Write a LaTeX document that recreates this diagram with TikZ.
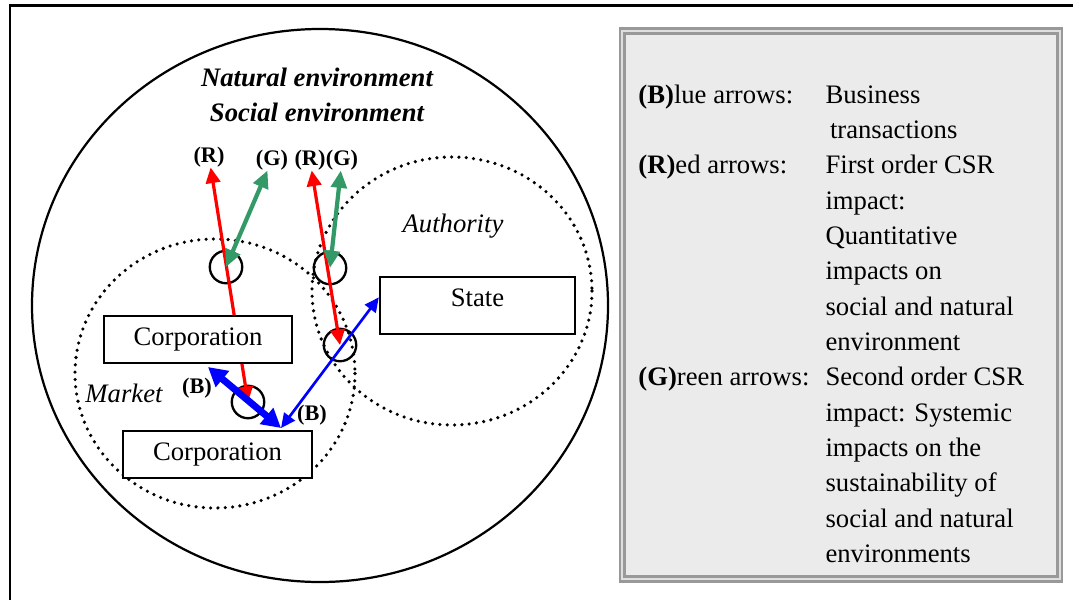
\documentclass[tikz,border=0pt]{standalone}
\usepackage{fontspec}
\setmainfont{Liberation Serif}
\usetikzlibrary{arrows.meta}
\definecolor{cred}{HTML}{FF0000}
\definecolor{cgreen}{HTML}{339966}
\definecolor{cblue}{HTML}{0000FF}
\definecolor{cpanel}{HTML}{EBEBEB}

\begin{document}
\begin{tikzpicture}[
	x=0.45pt, y=-0.45pt,
	% Estilo para las cajas de actores
	actorbox/.style={
		draw,
		rectangle,
		fill=white,
		line width=1pt,
		inner sep=0pt,
		minimum width=84.6pt,
		text height=13pt,
		text depth=8.1pt,
		align=center,
		font=\fontsize{12}{15.9}\selectfont
	},
	% Estilo para los circulos de impacto
	hub/.style={
		draw,
		circle,
		line width=1.05pt,
		inner sep=0pt,
		minimum size=14.6pt
	},
	% Estilo para las etiquetas de las flechas
	tag/.style={
		inner sep=0pt,
		font=\fontsize{10}{12}\selectfont\bfseries
	},
	% Estilo para los nombres de zona
	zonelabel/.style={
		inner sep=0pt,
		font=\fontsize{12}{15.9}\selectfont\itshape
	},
	% Estilo para las fronteras punteadas
	ring/.style={
		line width=1.6pt,
		line cap=round,
		dash pattern=on 0pt off 3.3pt
	},
	% Estilos para las flechas
	redarrow/.style={
		draw=cred,
		line width=1.45pt,
		{Triangle[length=7pt, width=6.5pt]}-{Triangle[length=7pt, width=6.5pt]}
	},
	greenarrow/.style={
		draw=cgreen,
		line width=1.9pt,
		{Triangle[length=7.8pt, width=7pt]}-{Triangle[length=7.8pt, width=7pt]}
	},
	bluearrow/.style={
		draw=cblue,
		line width=1.2pt,
		{Triangle[length=6.5pt, width=6pt]}-{Triangle[length=6.5pt, width=6pt]}
	},
	tradearrow/.style={
		draw=cblue,
		line width=3.1pt,
		{Triangle[length=8.5pt, width=9pt]}-{Triangle[length=8.5pt, width=9pt]}
	},
	% Estilo para el cuadro de leyenda
	panel/.style={
		draw=gray!80,
		double=gray!25,
		double distance=1.2pt,
		line width=1pt,
		fill=cpanel,
		minimum width=197pt,
		minimum height=246.6pt
	},
	legendtext/.style={
		inner sep=0pt,
		anchor=base west,
		font=\fontsize{12}{15.9}\selectfont
	}
	]
	\useasboundingbox (0,0) rectangle (1073,600);
	
	% --- Marco exterior ---
	\draw[line width=1.1pt] (10,600) -- (10,5.7) -- (1073,5.7);
	
	% --- Entorno y zonas ---
	\draw[line width=1pt] (320,305.5) ellipse [x radius=288, y radius=276.5];
	\draw[ring] (215,373.5) ellipse [x radius=140, y radius=134.5];
	\draw[ring] (452,291) ellipse [x radius=140, y radius=134];
	
	\node[align=center, font=\fontsize{12}{15.9}\selectfont\bfseries\itshape] (env) at (317,95)
	{Natural environment\\Social environment};
	\node[zonelabel, anchor=base] (market) at (124,402) {Market};
	\node[zonelabel, anchor=base] (authority) at (453,232) {Authority};
	
	% Circulos de impacto
	\node[hub] (hubA) at (226,267) {};
	\node[hub] (hubB) at (330,268) {};
	\node[hub] (hubC) at (340,345) {};
	\node[hub] (hubD) at (248,402) {};
	
	% Etiquetas de las flechas
	\node[tag] (r1) at (209,157) {(R)};
	\node[tag] (g1) at (272,160) {(G)};
	\node[tag] (r2) at (310,160) {(R)};
	\node[tag] (g2) at (342,160) {(G)};
	\node[tag] (b1) at (197,388) {(B)};
	\node[tag] (b2) at (312,415) {(B)};
	
	% Extremos libres de las flechas azules
	\coordinate (buyer) at (208,367);
	\coordinate (deal) at (281,428);
	
	% --- Flechas ---
	\draw[redarrow] (r1) -- (hubD.center);
	\draw[redarrow] (r2) -- (hubC.center);
	\draw[greenarrow] (g1) -- (hubA.center);
	\draw[greenarrow] (g2) -- (hubB.center);
	\draw[tradearrow] (buyer) -- (deal);
	
	% --- Actores ---
	\node[actorbox] (corpA) at (198,345) [anchor=base] {Corporation};
	\node[actorbox, minimum width=85pt] (corpB) at (217.5,460) [anchor=base] {Corporation};
	\node[actorbox, minimum width=87.8pt, text depth=12.6pt] (state) at (477.5,306) [anchor=base] {State};
	
	\draw[bluearrow] (deal) -- ([yshift=3.7pt]state.west);
	
	% --- Leyenda ---
	\node[panel] (legend) at (841,305) {};
	\node[legendtext] (legtext) at (638,103) {%
		\begin{tabular}[t]{@{}p{84.2pt}@{}l@{}}
			\textbf{(B)}lue arrows: & Business\\
			& \hspace{2pt}transactions\\
			\textbf{(R)}ed arrows: & First order CSR\\
			& impact:\\
			& Quantitative\\
			& impacts on\\
			& social and natural\\
			& environment\\
			\textbf{(G)}reen arrows: & Second order CSR\\
			& impact: Systemic\\
			& impacts on the\\
			& sustainability of\\
			& social and natural\\
			& environments
		\end{tabular}};
	
\end{tikzpicture}
\end{document}
